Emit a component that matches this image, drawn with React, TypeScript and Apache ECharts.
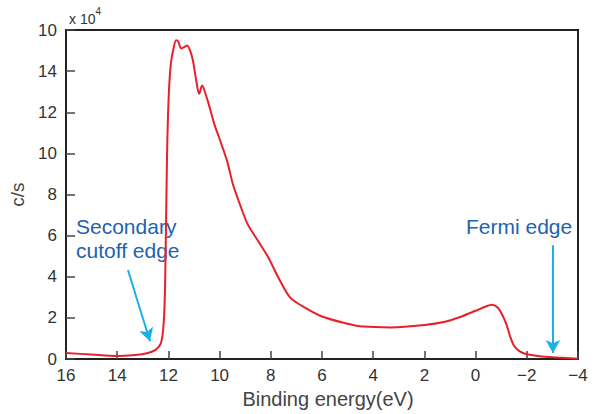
import React, { useEffect, useRef } from "react";
import * as echarts from "echarts";

// Binding energy (eV) and counts (x10^4 c/s)
const energy = [
  16.0, 15.0, 14.0, 13.3, 12.8, 12.5, 12.3, 12.2, 12.14, 12.1, 12.07, 12.04, 11.98, 11.9, 11.8,
  11.7, 11.62, 11.5, 11.4, 11.27, 11.15, 11.04, 10.92, 10.8, 10.68, 10.55, 10.38, 10.2, 10.0,
  9.7, 9.48, 9.2, 8.9, 8.5, 8.1, 7.72, 7.25, 6.8, 6.0, 5.0, 4.4, 3.3, 2.0, 1.2, 0.6, 0.0, -0.4,
  -0.64, -0.85, -1.0, -1.2, -1.35, -1.5, -1.7, -1.9, -2.5, -3.2, -4.0,
];
const counts = [
  0.3, 0.22, 0.15, 0.2, 0.3, 0.45, 0.75, 1.5, 3.0, 6.0, 8.5, 10.7, 13.0, 14.4, 15.1,
  15.5, 15.45, 15.1, 15.15, 15.25, 15.0, 14.5, 13.6, 12.9, 13.3, 12.9, 12.2, 11.4, 10.7,
  9.6, 8.5, 7.5, 6.55, 5.75, 4.95, 4.0, 3.0, 2.6, 2.07, 1.72, 1.58, 1.54, 1.66, 1.82, 2.05, 2.35, 2.56,
  2.64, 2.52, 2.25, 1.7, 1.1, 0.65, 0.4, 0.27, 0.14, 0.08, 0.02,
];
const yTickLabels: Record<number, string> = {
  0: "0", 2: "2", 4: "4", 6: "6", 8: "8", 10: "10", 12: "12", 14: "14", 16: "10",
};
// annotation arrows, in data coordinates [eV, counts]
const cutoffArrow = [[13.58, 4.33], [12.72, 0.87]];
const fermiArrow = [[-3.02, 5.53], [-3.02, 0.3]];

const FONT = "'Liberation Sans', Arial, sans-serif";

export default function App() {
  const ref = useRef<HTMLDivElement>(null);
  useEffect(() => {
    if (!ref.current) return;
    const chart = echarts.init(ref.current, null, { renderer: "svg" });
    chart.setOption({
      animation: false,
      backgroundColor: "#fff",
      grid: {
        left: 66, right: 17, top: 30, bottom: 51,
        show: true, borderColor: "#222", borderWidth: 2, backgroundColor: "transparent",
      },
      xAxis: {
        type: "value", inverse: true, min: -4, max: 16, interval: 2,
        name: "Binding energy(eV)", nameLocation: "middle", nameGap: 28,
        nameTextStyle: { fontFamily: FONT, fontSize: 20, color: "#444", padding: [0, 0, 0, 12] },
        axisLine: { show: true, onZero: false, lineStyle: { color: "#222", width: 2 } },
        axisTick: { show: true, inside: true, length: 8, lineStyle: { color: "#444", width: 1.5 } },
        axisLabel: {
          margin: 8, fontFamily: FONT, fontSize: 17, color: "#333",
          showMinLabel: true, showMaxLabel: true,
          formatter: (v: number) => (v < 0 ? "\u2212" + Math.abs(v) : String(v)),
        },
        splitLine: { show: false },
      },
      yAxis: {
        type: "value", min: 0, max: 16, interval: 2,
        name: "c/s", nameLocation: "middle", nameGap: 36, nameRotate: 90,
        nameTextStyle: { fontFamily: FONT, fontSize: 19, color: "#444" },
        axisLine: { show: true, onZero: false, lineStyle: { color: "#222", width: 2 } },
        axisTick: { show: true, inside: true, length: 9, lineStyle: { color: "#444", width: 1.5 } },
        axisLabel: {
          margin: 9, fontFamily: FONT, fontSize: 17, color: "#333",
          showMinLabel: true, showMaxLabel: true,
          formatter: (v: number) => yTickLabels[v] ?? String(v),
        },
        splitLine: { show: false },
      },
      series: [
        {
          type: "line",
          data: energy.map((e, i) => [e, counts[i]]),
          showSymbol: false,
          smooth: 0.3,
          lineStyle: { color: "#e8202a", width: 2 },
          itemStyle: { color: "#e8202a" },
          silent: true,
          markLine: {
            silent: true,
            symbol: ["none", "arrow"],
            symbolSize: [11, 13],
            label: { show: false },
            lineStyle: { color: "#1ab0e8", width: 2, type: "solid" },
            data: [
              [{ coord: cutoffArrow[0] }, { coord: cutoffArrow[1] }],
              [{ coord: fermiArrow[0] }, { coord: fermiArrow[1] }],
            ],
          },
        },
      ],
      graphic: [
        {
          type: "text", left: 69, top: 6,
          style: {
            text: "{a|x 10}{b|4}",
            rich: {
              a: { fontFamily: FONT, fontSize: 14, fill: "#333", verticalAlign: "bottom", padding: [6, 0, 0, 0] },
              b: { fontFamily: FONT, fontSize: 10, fill: "#333", verticalAlign: "top" },
            },
          },
        },
        {
          type: "text", left: 76, top: 214,
          style: {
            text: "Secondary\ncutoff edge", fontFamily: FONT, fontSize: 21,
            lineHeight: 24, fill: "#1e62b0",
          },
        },
        {
          type: "text", left: 466, top: 214,
          style: { text: "Fermi edge", fontFamily: FONT, fontSize: 21, lineHeight: 24, fill: "#1e62b0" },
        },
      ],
    });
    return () => chart.dispose();
  }, []);
  return <div ref={ref} style={{ width: 595, height: 414, position: "absolute", left: 0, top: 0 }} />;
}
